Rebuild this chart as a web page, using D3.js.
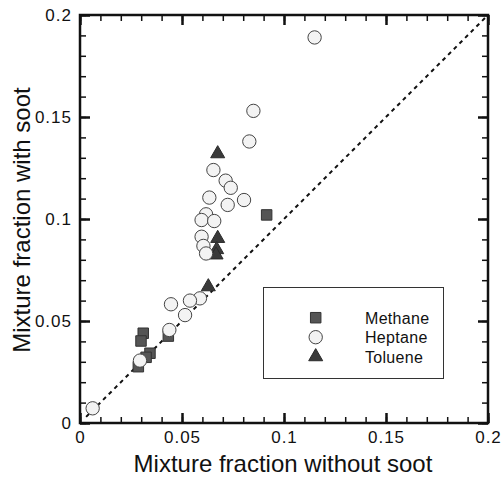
<!DOCTYPE html>
<html>
<head>
<meta charset="utf-8">
<script src="https://cdn.jsdelivr.net/npm/d3@7"></script>
<style>
  html, body { margin: 0; padding: 0; background: #fff; }
  svg { display: block; }
  text { font-family: "Liberation Sans", Arial, Helvetica, sans-serif; fill: #111; }
</style>
</head>
<body>
<svg id="chart" width="501" height="478"></svg>
<script>
// Mixture fraction with soot vs. without soot, per fuel
const methaneX = [0.0915, 0.0310, 0.0299, 0.0343, 0.0324, 0.0286, 0.0433];
const methaneY = [0.1020, 0.0440, 0.0402, 0.0342, 0.0322, 0.0276, 0.0426];

const heptaneX = [0.1150, 0.0850, 0.0830, 0.0654, 0.0714, 0.0739, 0.0634, 0.0804, 0.0724, 0.0618,
                  0.0596, 0.0658, 0.0596, 0.0605, 0.0618, 0.0588, 0.0539, 0.0515, 0.0446, 0.0438,
                  0.0294, 0.0062];
const heptaneY = [0.1890, 0.1530, 0.1380, 0.1240, 0.1188, 0.1153, 0.1105, 0.1093, 0.1069, 0.1023,
                  0.0995, 0.0990, 0.0913, 0.0868, 0.0831, 0.0611, 0.0600, 0.0529, 0.0582, 0.0456,
                  0.0306, 0.0072];

const tolueneX = [0.0675, 0.0675, 0.0670, 0.0667, 0.0629];
const tolueneY = [0.1320, 0.0905, 0.0850, 0.0824, 0.0668];

const majorTicks = [0, 0.05, 0.1, 0.15, 0.2];
const tickLabels = ["0", "0.05", "0.1", "0.15", "0.2"];
const minorTicks = d3.range(0, 0.2001, 0.01);
const seriesNames = ["Methane", "Heptane", "Toluene"];

const svg = d3.select("#chart");
const plotLeft = 80, plotRight = 488, plotTop = 15, plotBottom = 423;

const x = d3.scaleLinear().domain([0, 0.2]).range([plotLeft, plotRight]);
const y = d3.scaleLinear().domain([0, 0.2]).range([plotBottom, plotTop]);

const fmt = v => tickLabels[majorTicks.findIndex(t => Math.abs(t - v) < 1e-9)];

// inward ticks on all four sides
function drawAxis(axisFn, scale, transform, showLabels) {
  const gMinor = svg.append("g").attr("transform", transform)
    .call(axisFn(scale).tickValues(minorTicks).tickSize(-6).tickFormat(""));
  gMinor.select(".domain").remove();
  gMinor.selectAll("line").attr("stroke", "#111").attr("stroke-width", 1.5);

  const gMajor = svg.append("g").attr("transform", transform)
    .call(axisFn(scale).tickValues(majorTicks).tickSize(-10).tickPadding(showLabels ? 17 : 0)
      .tickFormat(showLabels ? fmt : ""));
  gMajor.select(".domain").remove();
  gMajor.selectAll("line").attr("stroke", "#111").attr("stroke-width", 2.5);
  gMajor.selectAll("text")
    .style("font-size", "17px")
    .style("letter-spacing", "1px")
    .attr("fill", "#222");
  return gMajor;
}

const gx = drawAxis(d3.axisBottom, x, `translate(0,${plotBottom})`, true);
gx.selectAll("text").attr("dy", "0.71em").attr("y", 8);
drawAxis(d3.axisTop, x, `translate(0,${plotTop})`, false);
const gy = drawAxis(d3.axisLeft, y, `translate(${plotLeft},0)`, true);
gy.selectAll("text").attr("x", -8);
drawAxis(d3.axisRight, y, `translate(${plotRight},0)`, false);

// frame
svg.append("rect")
  .attr("x", plotLeft).attr("y", plotTop)
  .attr("width", plotRight - plotLeft).attr("height", plotBottom - plotTop)
  .attr("fill", "none").attr("stroke", "#111").attr("stroke-width", 2.5);

// y = x reference line
svg.append("line")
  .attr("x1", x(0.003)).attr("y1", y(0.003))
  .attr("x2", x(0.2)).attr("y2", y(0.2))
  .attr("stroke", "#111").attr("stroke-width", 2)
  .attr("stroke-dasharray", "4,4");

const symSquare = d3.symbol().type(d3.symbolSquare).size(110);
const symCircle = d3.symbol().type(d3.symbolCircle).size(140);
const symTriangle = d3.symbol().type(d3.symbolTriangle).size(85);

const styles = {
  Methane: { sym: symSquare, fill: "#555", stroke: "#333" },
  Heptane: { sym: symCircle, fill: "#f3f3f3", stroke: "#444" },
  Toluene: { sym: symTriangle, fill: "#3a3a3a", stroke: "#2a2a2a" }
};

function plotSeries(name, xs, ys) {
  const st = styles[name];
  svg.append("g").selectAll("path")
    .data(xs.map((v, i) => [v, ys[i]]))
    .join("path")
    .attr("d", st.sym())
    .attr("transform", d => `translate(${x(d[0])},${y(d[1])})`)
    .attr("fill", st.fill)
    .attr("stroke", st.stroke)
    .attr("stroke-width", 1);
}

plotSeries("Methane", methaneX, methaneY);
plotSeries("Toluene", tolueneX, tolueneY);
plotSeries("Heptane", heptaneX, heptaneY);

// legend
const legend = svg.append("g");
legend.append("rect")
  .attr("x", 263.5).attr("y", 287.5)
  .attr("width", 180).attr("height", 91)
  .attr("fill", "#fff").attr("stroke", "#333").attr("stroke-width", 1);

seriesNames.forEach((name, i) => {
  const cy = 317.7 + i * 19.5;
  const st = styles[name];
  legend.append("path")
    .attr("d", st.sym())
    .attr("transform", `translate(315.7,${cy})`)
    .attr("fill", st.fill).attr("stroke", st.stroke).attr("stroke-width", 1);
  legend.append("text")
    .attr("x", 365).attr("y", cy + 5.8)
    .style("font-size", "16px")
    .style("letter-spacing", "0.3px")
    .text(name);
});

// axis titles
svg.append("text")
  .attr("x", 283).attr("y", 472)
  .attr("text-anchor", "middle")
  .style("font-size", "24px")
  .text("Mixture fraction without soot");

svg.append("text")
  .attr("transform", `translate(30,220) rotate(-90)`)
  .attr("text-anchor", "middle")
  .style("font-size", "24px")
  .text("Mixture fraction with soot");
</script>
</body>
</html>
